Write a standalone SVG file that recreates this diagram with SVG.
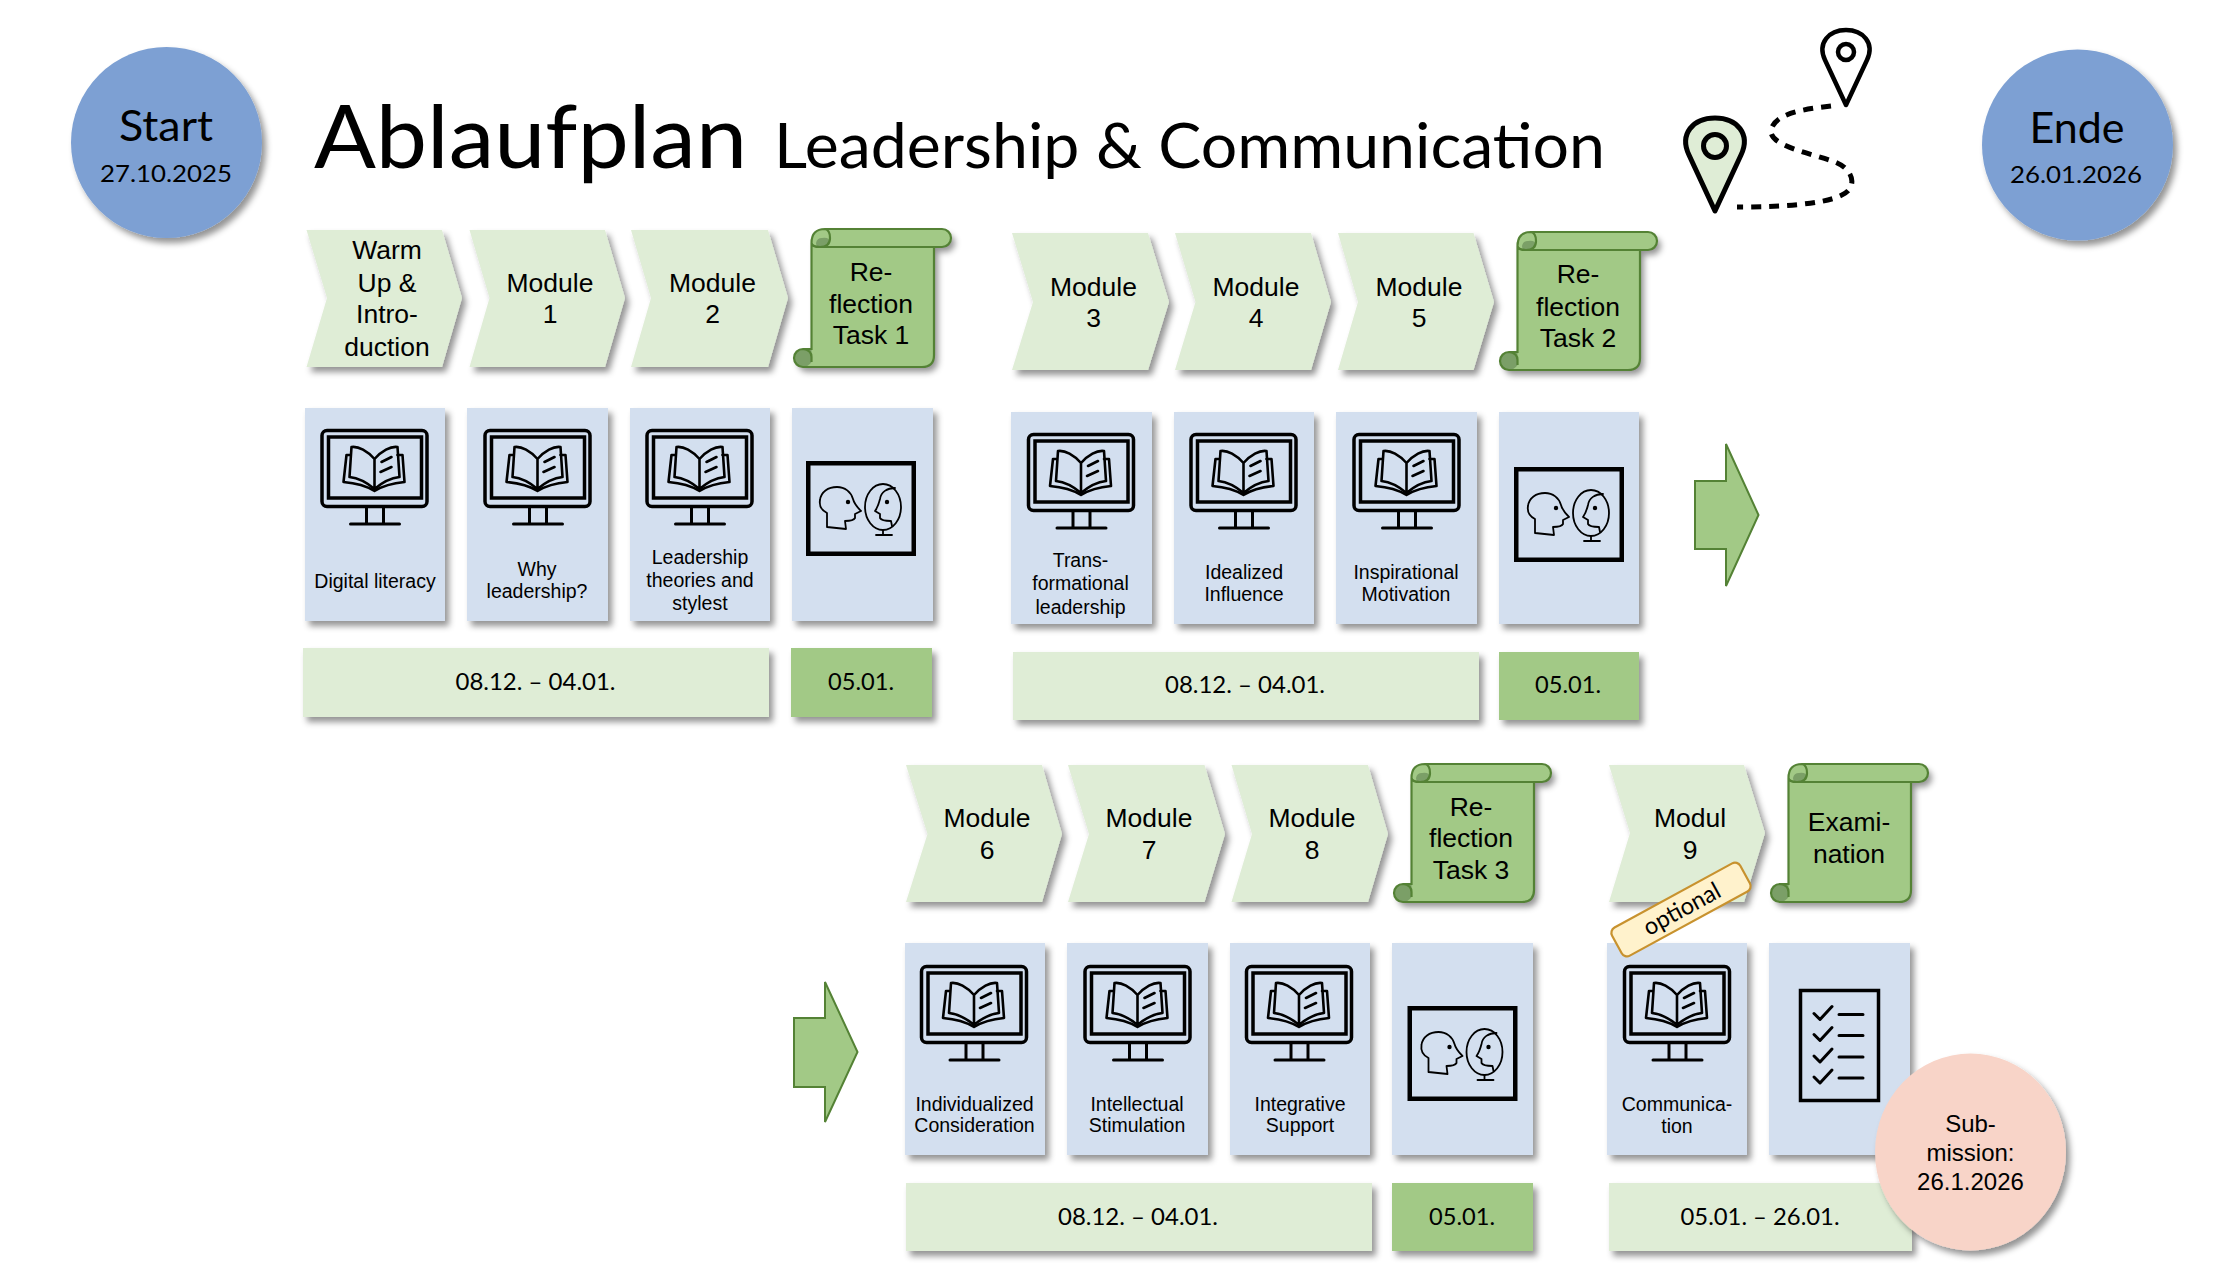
<svg xmlns="http://www.w3.org/2000/svg" xmlns:xlink="http://www.w3.org/1999/xlink" width="2224" height="1284" viewBox="0 0 2224 1284">
<style>
text{fill:#000}
.m,.b,.s{font-family:"Liberation Sans",Arial,sans-serif;text-anchor:middle}
.m{font-size:26.5px}
.b{font-size:19.5px}
.s{font-size:24px}
.d{font-family:Lato,"Open Sans",sans-serif;font-size:23px;text-anchor:middle}
.t{font-family:Lato,"Open Sans",sans-serif}
.chev{fill:#dfedd6;filter:url(#sh)}
.card{fill:#d3dfef;filter:url(#sh)}
.lt{fill:#dfedd6;filter:url(#sh)}
.dk{fill:#a2c986;filter:url(#sh)}
.ln{fill:none;stroke:#000;stroke-linejoin:round;stroke-linecap:round}
.circ{fill:#7da0d3;filter:url(#sh)}
.arr{fill:#a2c986;stroke:#548235;stroke-width:2}
</style>
<defs>
<filter id="sh" x="-20%" y="-20%" width="140%" height="140%"><feDropShadow dx="4" dy="5" stdDeviation="3" flood-color="#000" flood-opacity=".42"/></filter>
<g id="monitor">
<rect class="ln" x="1.5" y="1.5" width="105" height="76" rx="5" stroke-width="3.5"/>
<rect x="8" y="8" width="93" height="61" fill="none" stroke="#000" stroke-width="3.5"/>
<path class="ln" stroke-width="3" d="M46,78V95M63,78V95M30,95H79"/>
<path class="ln" stroke-width="2.6" d="M54,30C47,22 38,17 31,18L29,48C38,49 47,54 54,60C61,54 70,49 79,48L77,18C70,17 61,22 54,30V60"/>
<path class="ln" stroke-width="2.6" d="M29,26H26L23,53C35,54 46,57 54,62C62,57 73,54 84,53L82,26H77M61,33L71,28M60,43L71,38"/>
</g>
<g id="mirror">
<rect x="2.25" y="2.25" width="105.5" height="90.5" fill="none" stroke="#000" stroke-width="4.5"/>
<path class="ln" stroke-width="1.8" d="M21,66V52C15,49 13,45 14,39C15,31 22,26 31,26C39,26 45,31 47,38C48,42 51,46 55,50L49,53V57C48,59 44,60 39,60L40,68Z"/>
<circle cx="42" cy="41" r="2.2"/>
<ellipse class="ln" stroke-width="1.8" cx="77" cy="46" rx="18" ry="23"/>
<path class="ln" stroke-width="1.8" d="M89,27C81,27 75,31 74,38C73,42 72,46 69,50L74,53V57C75,59 80,60 85,60L86,65M77,69V74M70,74H86"/>
<circle cx="81" cy="41" r="2.2"/>
</g>
<g id="scroll">
<path d="M17.5,14Q17.5,0 31,0H148A9,9 0 0 1 148,18H140V126Q140,138 128,138H9A9,9 0 0 1 9,120H17.5Z" fill="#a2c986" filter="url(#sh)"/>
<path d="M22,14Q23,9 28,9Q36,8 35,13Q33,18 26,18Q22,18 22,14Z" fill="#7b9f67"/>
<path d="M0,129A9,9 0 0 1 9,120H17.5V133Q14,138 9,138A9,9 0 0 1 0,129Z" fill="#7b9f67"/>
<path d="M17.5,14Q17.5,0 31,0H148A9,9 0 0 1 148,18H140V126Q140,138 128,138H9A9,9 0 0 1 9,120H17.5ZM31,0Q36,1 36,9Q36,18 26,18H140M17.5,14Q18,18 26,18M9,120Q17.5,121 17.5,128V133" fill="none" stroke="#548235" stroke-width="2.2"/>
</g>
<g id="check"><path class="ln" stroke-width="3" d="M-9,7L-3,13L9,0M16,8H40"/></g>
</defs>
<rect width="2224" height="1284" fill="#fff"/>

<g id="title">
<text class="t" x="314" y="168" font-size="88" textLength="433" lengthAdjust="spacingAndGlyphs">Ablaufplan</text>
<text class="t" x="774" y="168" font-size="62" textLength="831" lengthAdjust="spacingAndGlyphs">Leadership &amp; Communication</text>
</g>

<g id="connectors">
<path class="arr" d="M1695,481H1726V444L1758.5,515L1726,586V549H1695Z"/>
<path class="arr" d="M794,1018H825V982L857.5,1052L825,1122V1087H794Z"/>
<path d="M1831,106C1805,109 1775,113 1771,130C1769,146 1810,153 1835,162C1850,168 1855,180 1850,188C1843,203 1790,207 1737,207" fill="none" stroke="#000" stroke-width="5" stroke-dasharray="10 8"/>
</g>

<g id="start"><circle class="circ" cx="166.5" cy="142.5" r="95.5"/>
<text class="t" x="166" y="141" font-size="43" text-anchor="middle" textLength="94" lengthAdjust="spacingAndGlyphs">Start</text>
<text class="t" x="166" y="182" font-size="24" text-anchor="middle" textLength="132" lengthAdjust="spacingAndGlyphs">27.10.2025</text></g>
<g id="ende"><circle class="circ" cx="2077.5" cy="145" r="95.5"/>
<text class="t" x="2077" y="143" font-size="43" text-anchor="middle" textLength="95" lengthAdjust="spacingAndGlyphs">Ende</text>
<text class="t" x="2076" y="183" font-size="24" text-anchor="middle" textLength="132" lengthAdjust="spacingAndGlyphs">26.01.2026</text></g>

<g id="pin-end">
<path d="M1846,105L1825,60C1817,43 1829,30 1846,30C1863,30 1875,43 1867,60Z" fill="#fff" stroke="#000" stroke-width="4.5" stroke-linejoin="round"/>
<circle cx="1846" cy="52" r="8" fill="none" stroke="#000" stroke-width="4.5"/>
</g>
<g id="pin-start">
<path d="M1715,211L1689,155C1679,134 1693,118 1715,118C1737,118 1751,134 1741,155Z" fill="#dfedd6" stroke="#000" stroke-width="5" stroke-linejoin="round"/>
<circle cx="1715" cy="146" r="11.5" fill="none" stroke="#000" stroke-width="5"/>
</g>

<!-- block 1 -->
<g id="warmup"><path class="chev" d="M306.5,230H442L462,298L442,367H306.5L327,298Z"/>
<text class="m" x="387"><tspan x="387" y="259">Warm</tspan><tspan x="387" y="292">Up &amp;</tspan><tspan x="387" y="323">Intro-</tspan><tspan x="387" y="356">duction</tspan></text></g>
<g id="module1"><path class="chev" d="M469.5,230H605L625,298L605,367H469.5L489.5,298Z"/>
<text class="m"><tspan x="550" y="292">Module</tspan><tspan x="550" y="323">1</tspan></text></g>
<g id="module2"><path class="chev" d="M631,230H768L788,298L768,367H631L651,298Z"/>
<text class="m"><tspan x="712.5" y="292">Module</tspan><tspan x="712.5" y="323">2</tspan></text></g>
<g id="task1"><use href="#scroll" x="794" y="229"/>
<text class="m"><tspan x="871" y="281">Re-</tspan><tspan x="871" y="313">flection</tspan><tspan x="871" y="344">Task 1</tspan></text></g>

<g id="card-digital"><rect class="card" x="305" y="408" width="140" height="213"/><use href="#monitor" x="320.5" y="429"/>
<text class="b" x="375" y="588">Digital literacy</text></g>
<g id="card-why"><rect class="card" x="467" y="408" width="141" height="213"/><use href="#monitor" x="483.5" y="429"/>
<text class="b"><tspan x="537" y="575.5">Why</tspan><tspan x="537" y="598">leadership?</tspan></text></g>
<g id="card-theories"><rect class="card" x="630" y="408" width="140" height="213"/><use href="#monitor" x="645.5" y="429"/>
<text class="b"><tspan x="700" y="564">Leadership</tspan><tspan x="700" y="587">theories and</tspan><tspan x="700" y="610">stylest</tspan></text></g>
<g id="card-reflect1"><rect class="card" x="792" y="408" width="141" height="213"/><use href="#mirror" x="806" y="461"/></g>
<g id="date1"><rect class="lt" x="303" y="648" width="466" height="69"/><text class="d" x="535.5" y="690" textLength="160" lengthAdjust="spacingAndGlyphs">08.12. – 04.01.</text></g>
<g id="date1b"><rect class="dk" x="791" y="648" width="141" height="69"/><text class="d" x="861" y="689.5" textLength="66" lengthAdjust="spacingAndGlyphs">05.01.</text></g>

<!-- block 2 -->
<g id="module3"><path class="chev" d="M1012,233H1148L1169,302L1148,370H1012L1033,302Z"/>
<text class="m"><tspan x="1093.5" y="296">Module</tspan><tspan x="1093.5" y="327">3</tspan></text></g>
<g id="module4"><path class="chev" d="M1175,233H1311L1331,302L1311,370H1175L1195.5,302Z"/>
<text class="m"><tspan x="1256" y="296">Module</tspan><tspan x="1256" y="327">4</tspan></text></g>
<g id="module5"><path class="chev" d="M1338,233H1473.5L1494,302L1473.5,370H1338L1358,302Z"/>
<text class="m"><tspan x="1419" y="296">Module</tspan><tspan x="1419" y="327">5</tspan></text></g>
<g id="task2"><use href="#scroll" x="1500" y="232"/>
<text class="m"><tspan x="1578" y="283">Re-</tspan><tspan x="1578" y="316">flection</tspan><tspan x="1578" y="347">Task 2</tspan></text></g>

<g id="card-trans"><rect class="card" x="1011" y="412" width="141" height="212"/><use href="#monitor" x="1027" y="433"/>
<text class="b"><tspan x="1080.5" y="567">Trans-</tspan><tspan x="1080.5" y="590">formational</tspan><tspan x="1080.5" y="613.5">leadership</tspan></text></g>
<g id="card-idealized"><rect class="card" x="1174" y="412" width="140" height="212"/><use href="#monitor" x="1189.5" y="433"/>
<text class="b"><tspan x="1244" y="579">Idealized</tspan><tspan x="1244" y="601">Influence</tspan></text></g>
<g id="card-inspirational"><rect class="card" x="1336" y="412" width="141" height="212"/><use href="#monitor" x="1352.5" y="433"/>
<text class="b"><tspan x="1406" y="579">Inspirational</tspan><tspan x="1406" y="601">Motivation</tspan></text></g>
<g id="card-reflect2"><rect class="card" x="1499" y="412" width="140" height="212"/><use href="#mirror" x="1514" y="467"/></g>
<g id="date2"><rect class="lt" x="1013" y="652" width="466" height="68"/><text class="d" x="1245" y="693" textLength="160" lengthAdjust="spacingAndGlyphs">08.12. – 04.01.</text></g>
<g id="date2b"><rect class="dk" x="1499" y="652" width="140" height="68"/><text class="d" x="1568" y="693" textLength="66" lengthAdjust="spacingAndGlyphs">05.01.</text></g>

<!-- block 3 -->
<g id="module6"><path class="chev" d="M906,765H1042L1062,834L1042,902H906L927.5,834Z"/>
<text class="m"><tspan x="987" y="827">Module</tspan><tspan x="987" y="859">6</tspan></text></g>
<g id="module7"><path class="chev" d="M1068,765H1204.5L1225,834L1204.5,902H1068L1089,834Z"/>
<text class="m"><tspan x="1149" y="827">Module</tspan><tspan x="1149" y="859">7</tspan></text></g>
<g id="module8"><path class="chev" d="M1231.5,765H1368L1388,834L1368,902H1231.5L1252,834Z"/>
<text class="m"><tspan x="1312" y="827">Module</tspan><tspan x="1312" y="859">8</tspan></text></g>
<g id="task3"><use href="#scroll" x="1394" y="764"/>
<text class="m"><tspan x="1471" y="816">Re-</tspan><tspan x="1471" y="847">flection</tspan><tspan x="1471" y="879">Task 3</tspan></text></g>

<g id="card-individualized"><rect class="card" x="905" y="943" width="140" height="212"/><use href="#monitor" x="920" y="965"/>
<text class="b"><tspan x="974.5" y="1111">Individualized</tspan><tspan x="974.5" y="1132">Consideration</tspan></text></g>
<g id="card-intellectual"><rect class="card" x="1067" y="943" width="141" height="212"/><use href="#monitor" x="1083.5" y="965"/>
<text class="b"><tspan x="1137" y="1111">Intellectual</tspan><tspan x="1137" y="1132">Stimulation</tspan></text></g>
<g id="card-integrative"><rect class="card" x="1230" y="943" width="140" height="212"/><use href="#monitor" x="1245" y="965"/>
<text class="b"><tspan x="1300" y="1111">Integrative</tspan><tspan x="1300" y="1132">Support</tspan></text></g>
<g id="card-reflect3"><rect class="card" x="1392" y="943" width="141" height="212"/><use href="#mirror" x="1407.5" y="1006"/></g>
<g id="date3"><rect class="lt" x="906" y="1183" width="466" height="68"/><text class="d" x="1138" y="1225" textLength="160" lengthAdjust="spacingAndGlyphs">08.12. – 04.01.</text></g>
<g id="date3b"><rect class="dk" x="1392" y="1183" width="141" height="68"/><text class="d" x="1462" y="1225" textLength="66" lengthAdjust="spacingAndGlyphs">05.01.</text></g>

<!-- block 4 -->
<g id="module9"><path class="chev" d="M1609,765H1744L1765,833L1744,902H1609L1630,833Z"/>
<text class="m"><tspan x="1690" y="827">Modul</tspan><tspan x="1690" y="859">9</tspan></text></g>
<g id="examination"><use href="#scroll" x="1771" y="764"/>
<text class="m"><tspan x="1849" y="831">Exami-</tspan><tspan x="1849" y="863">nation</tspan></text></g>
<g id="card-communication"><rect class="card" x="1607" y="943" width="140" height="212"/><use href="#monitor" x="1623" y="965"/>
<text class="b"><tspan x="1677" y="1111">Communica-</tspan><tspan x="1677" y="1133">tion</tspan></text></g>
<g id="card-exam"><rect class="card" x="1769" y="943" width="141" height="212"/>
<rect x="1800.5" y="990.5" width="78" height="110" fill="none" stroke="#000" stroke-width="3.5"/>
<use href="#check" x="1823" y="1006.5"/><use href="#check" x="1823" y="1027.5"/><use href="#check" x="1823" y="1049"/><use href="#check" x="1823" y="1070"/></g>
<g id="date4"><rect class="lt" x="1609" y="1183" width="303" height="68"/><text class="d" x="1760" y="1225" textLength="159" lengthAdjust="spacingAndGlyphs">05.01. – 26.01.</text></g>
<g id="submission"><ellipse cx="1970.5" cy="1152" rx="95.5" ry="98.5" fill="#f8d4c8" filter="url(#sh)"/>
<text class="s"><tspan x="1970.5" y="1132">Sub-</tspan><tspan x="1970.5" y="1161">mission:</tspan><tspan x="1970.5" y="1190">26.1.2026</tspan></text></g>
<g id="optional" transform="translate(1681 909.5) rotate(-28.6)"><rect x="-73" y="-16" width="146" height="32" rx="6" fill="#fff2cc" stroke="#c8922e" stroke-width="2.2"/>
<text class="t" x="1" y="8" font-size="24" text-anchor="middle" textLength="84" lengthAdjust="spacingAndGlyphs">optional</text></g>
</svg>
